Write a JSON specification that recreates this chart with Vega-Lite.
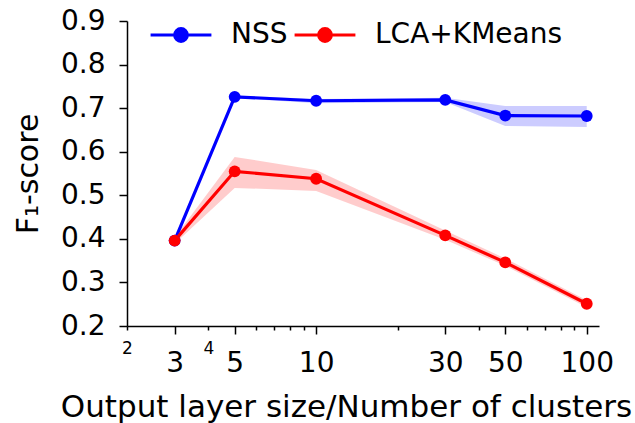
{
  "$schema": "https://vega.github.io/schema/vega-lite/v6.json",
  "width": 472,
  "height": 305,
  "autosize": {"type": "none"},
  "padding": {"left": 127, "top": 21, "right": 36, "bottom": 97},
  "background": "white",
  "config": {
    "view": {"stroke": null},
    "font": "DejaVu Sans",
    "axis": {"domainColor": "black", "domainWidth": 1.5, "tickColor": "black", "tickWidth": 1.5, "labelColor": "black", "titleColor": "black", "labelFont": "DejaVu Sans", "titleFont": "DejaVu Sans", "titleFontWeight": "normal", "grid": false}
  },
  "data": {"values": [
    {"method": "NSS", "x": 3, "y": 0.396, "lo": 0.393, "hi": 0.399},
    {"method": "NSS", "x": 5, "y": 0.726, "lo": 0.723, "hi": 0.729},
    {"method": "NSS", "x": 10, "y": 0.717, "lo": 0.711, "hi": 0.721},
    {"method": "NSS", "x": 30, "y": 0.719, "lo": 0.714, "hi": 0.724},
    {"method": "NSS", "x": 50, "y": 0.683, "lo": 0.659, "hi": 0.705},
    {"method": "NSS", "x": 100, "y": 0.682, "lo": 0.657, "hi": 0.705},
    {"method": "LCA+KMeans", "x": 3, "y": 0.396, "lo": 0.389, "hi": 0.403},
    {"method": "LCA+KMeans", "x": 5, "y": 0.555, "lo": 0.517, "hi": 0.588},
    {"method": "LCA+KMeans", "x": 10, "y": 0.538, "lo": 0.510, "hi": 0.558},
    {"method": "LCA+KMeans", "x": 30, "y": 0.408, "lo": 0.398, "hi": 0.419},
    {"method": "LCA+KMeans", "x": 50, "y": 0.346, "lo": 0.338, "hi": 0.355},
    {"method": "LCA+KMeans", "x": 100, "y": 0.251, "lo": 0.243, "hi": 0.259}
  ]},
  "encoding": {
    "x": {"field": "x", "type": "quantitative",
      "scale": {"type": "log", "domain": [2, 111], "nice": false, "zero": false},
      "axis": {
        "title": "Output layer size/Number of clusters",
        "titleFontSize": 31, "titlePadding": 15, "titleX": 219, "titleAlign": "center",
        "values": [2, 3, 4, 5, 6, 7, 8, 9, 10, 20, 30, 40, 50, 60, 70, 80, 90, 100],
        "labelExpr": "indexof([2,3,4,5,10,30,50,100], datum.value) >= 0 ? datum.value + '' : ''",
        "labelFontSize": {"condition": {"test": "datum.value == 2 || datum.value == 4", "value": 17}, "value": 28},
        "labelPadding": {"condition": {"test": "datum.value == 2 || datum.value == 4", "value": 10}, "value": 15},
        "tickSize": {"condition": {"test": "indexof([3,5,10,30,50,100], datum.value) >= 0", "value": 8}, "value": 4},
        "labelFlush": false, "labelOverlap": false
      }
    },
    "y": {"field": "y", "type": "quantitative",
      "scale": {"domain": [0.2, 0.9], "nice": false, "zero": false},
      "axis": {"title": "F₁-score", "titleFontSize": 30, "titlePadding": 17,
        "values": [0.2, 0.3, 0.4, 0.5, 0.6, 0.7, 0.8, 0.9], "format": ".1f",
        "labelFontSize": 28, "tickSize": 8, "labelPadding": 14}
    },
    "color": {"field": "method", "type": "nominal",
      "scale": {"domain": ["NSS", "LCA+KMeans"], "range": ["#0000ff", "#ff0000"]},
      "legend": {"orient": "none", "legendX": 22, "legendY": -18, "direction": "horizontal",
        "title": null, "labelFontSize": 28, "labelColor": "black", "labelLimit": 400,
        "symbolType": "M -1 0 L 1 0 M -0.21 0 A 0.21 0.21 0 1 1 0.21 0 A 0.21 0.21 0 1 1 -0.21 0",
        "symbolSize": 3700, "symbolStrokeWidth": 3, "symbolOpacity": 1,
        "labelOffset": 18, "columnPadding": 0}
    }
  },
  "layer": [
    {"mark": {"type": "area", "opacity": 0.2}, "encoding": {"y": {"field": "lo", "type": "quantitative"}, "y2": {"field": "hi"}}},
    {"mark": {"type": "line", "strokeWidth": 3.2}},
    {"mark": {"type": "point", "filled": true, "size": 140, "opacity": 1}}
  ]
}
